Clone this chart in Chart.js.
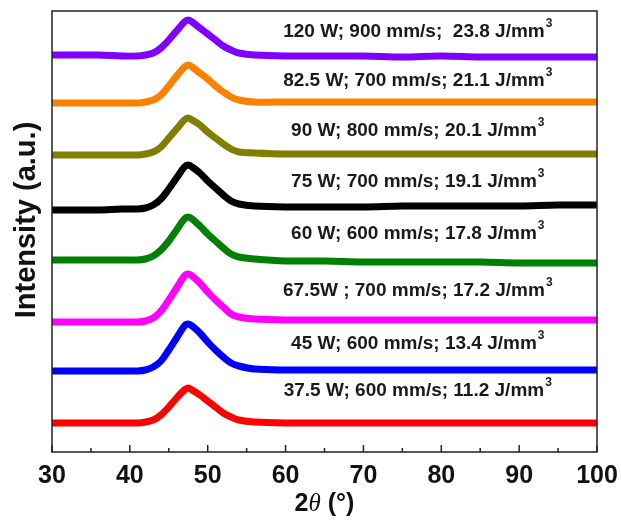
<!DOCTYPE html>
<html>
<head>
<meta charset="utf-8">
<script src="https://cdn.jsdelivr.net/npm/chart.js@4"></script>
<style>
  body { margin: 0; background: #fff; }
  #wrap { width: 621px; height: 520px; }
</style>
</head>
<body>
<div id="wrap"><canvas id="xrdChart"></canvas></div>
<script>
// 2theta sample positions (deg)
const twoTheta = [30, 33, 36, 39, 41, 42, 43, 44, 45, 46, 47, 47.5, 48, 49, 50, 51, 52, 53, 54, 56, 60, 65, 70, 75, 80, 85, 90, 95, 100]

// intensity (a.u., already stacked)
const red     = [29, 29, 29, 29, 29, 30, 32, 37, 45, 54, 62, 64, 62, 57, 51, 45, 39, 35, 32, 30, 29, 29, 29, 29, 29, 29, 29, 29, 29]
const blue    = [81, 81, 81, 81, 81, 82, 85, 91, 102, 114, 126, 128, 126, 119, 110, 102, 95, 89, 86, 83, 82, 82, 82, 82, 82, 82, 82, 82, 82]
const magenta = [130, 130, 130, 130, 130, 131, 134, 141, 152, 164, 176, 178, 176, 169, 160, 152, 145, 138, 135, 133, 132, 132, 132, 132, 132, 132, 132, 132, 132]
const green   = [192, 192, 192, 192, 192, 193, 196, 202, 211, 222, 233, 235, 233, 226, 218, 211, 204, 198, 195, 193, 191, 191, 190, 190, 190, 190, 189, 189, 189]
const black   = [242, 242, 242, 243, 243, 244, 247, 253, 263, 274, 285, 287, 285, 279, 271, 264, 257, 251, 248, 246, 245, 245, 245, 246, 246, 246, 246, 247, 247]
const olive   = [297, 297, 297, 297, 297, 298, 300, 305, 314, 323, 332, 334, 332, 327, 320, 314, 308, 303, 300, 299, 298, 298, 298, 298, 298, 298, 298, 298, 298]
const orange  = [349, 349, 349, 349, 349, 350, 352, 357, 366, 376, 385, 387, 385, 379, 373, 366, 360, 355, 352, 350, 350, 350, 350, 350, 350, 350, 350, 350, 350]
const purple  = [397, 397, 397, 396, 396, 397, 399, 404, 412, 421, 430, 432, 430, 424, 418, 412, 406, 402, 399, 397, 396, 396, 396, 395, 396, 395, 395, 395, 395]

// curve labels (bottom to top), superscript 3 added when drawn
const labelText = [
  '37.5 W; 600 mm/s; 11.2 J/mm',
  '45 W; 600 mm/s; 13.4 J/mm',
  '67.5W ; 700 mm/s; 17.2 J/mm',
  '60 W; 600 mm/s; 17.8 J/mm',
  '75 W; 700 mm/s; 19.1 J/mm',
  '90 W; 800 mm/s; 20.1 J/mm',
  '82.5 W; 700 mm/s; 21.1 J/mm',
  '120 W; 900 mm/s;  23.8 J/mm'
]
const labelY = [61, 108, 161, 218, 270, 321, 371, 420]
const labelX = 77

const xTicks = [30, 40, 50, 60, 70, 80, 90, 100]

const series = [red, blue, magenta, green, black, olive, orange, purple]
const colors = ['#ff0000', '#0000ff', '#ff00ff', '#008000', '#000000', '#808000', '#ff8000', '#8000ff']

const frame = {
  id: 'frame',
  afterDatasetsDraw(chart) {
    const { ctx, chartArea: a, scales: { x, y } } = chart
    ctx.save()

    // curve labels
    ctx.fillStyle = '#1a1a1a'
    ctx.textBaseline = 'middle'
    labelText.forEach((t, i) => {
      ctx.font = 'bold 19px "Liberation Sans", Arial, sans-serif'
      const w = ctx.measureText(t).width
      const cx = x.getPixelForValue(labelX)
      const cy = y.getPixelForValue(labelY[i])
      const x0 = cx - (w + 8) / 2
      ctx.textAlign = 'left'
      ctx.fillText(t, x0, cy)
      ctx.font = 'bold 12px "Liberation Sans", Arial, sans-serif'
      ctx.fillText('3', x0 + w + 1, cy - 8)
    })

    // box
    ctx.strokeStyle = '#222'
    ctx.lineWidth = 1.5
    ctx.strokeRect(a.left, a.top, a.right - a.left, a.bottom - a.top)

    // inward ticks on bottom axis
    for (let v = 30; v <= 100; v += 5) {
      const px = x.getPixelForValue(v)
      const len = v % 10 === 0 ? 7 : 4
      ctx.beginPath()
      ctx.moveTo(px, a.bottom)
      ctx.lineTo(px, a.bottom - len)
      ctx.stroke()
    }

    // y title
    ctx.save()
    ctx.translate(27, 220)
    ctx.rotate(-Math.PI / 2)
    ctx.textAlign = 'center'
    ctx.textBaseline = 'middle'
    ctx.fillStyle = '#111'
    ctx.font = 'bold 29px "Liberation Sans", Arial, sans-serif'
    ctx.fillText('Intensity (a.u.)', 0, 0)
    ctx.restore()

    // x title: 2θ(°) with italic theta
    const parts = [
      ['2', 'bold 25px "Liberation Sans", Arial, sans-serif'],
      ['\u03b8', 'italic 25px "Liberation Serif", "Times New Roman", serif'],
      [' (°)', 'bold 25px "Liberation Sans", Arial, sans-serif']
    ]
    let total = 0
    parts.forEach(p => { ctx.font = p[1]; total += ctx.measureText(p[0]).width })
    let px = (a.left + a.right) / 2 - total / 2
    ctx.textAlign = 'left'
    ctx.textBaseline = 'middle'
    ctx.fillStyle = '#111'
    parts.forEach(p => {
      ctx.font = p[1]
      ctx.fillText(p[0], px, 504)
      px += ctx.measureText(p[0]).width
    })

    ctx.restore()
  }
}

new Chart(document.getElementById('xrdChart'), {
  type: 'line',
  data: {
    labels: twoTheta,
    datasets: series.map((s, i) => ({
      data: s.map((v, j) => ({ x: twoTheta[j], y: v })),
      borderColor: colors[i],
      borderWidth: 7,
      tension: 0.35,
      pointRadius: 0,
      fill: false
    }))
  },
  options: {
    responsive: true,
    maintainAspectRatio: false,
    animation: false,
    layout: { padding: { left: 52, right: 24, top: 11, bottom: 0 } },
    plugins: { legend: { display: false }, tooltip: { enabled: false } },
    scales: {
      x: {
        type: 'linear',
        min: 30,
        max: 100,
        afterBuildTicks: s => { s.ticks = xTicks.map(v => ({ value: v })) },
        afterFit: s => { s.height = 68 },
        ticks: {
          color: '#111',
          padding: 1,
          maxRotation: 0,
          autoSkip: false,
          font: { family: '"Liberation Sans", Arial, sans-serif', size: 25, weight: 'bold' }
        },
        grid: { display: false },
        border: { display: false }
      },
      y: {
        display: false,
        min: 0,
        max: 441
      }
    }
  },
  plugins: [frame]
})
</script>
</body>
</html>
